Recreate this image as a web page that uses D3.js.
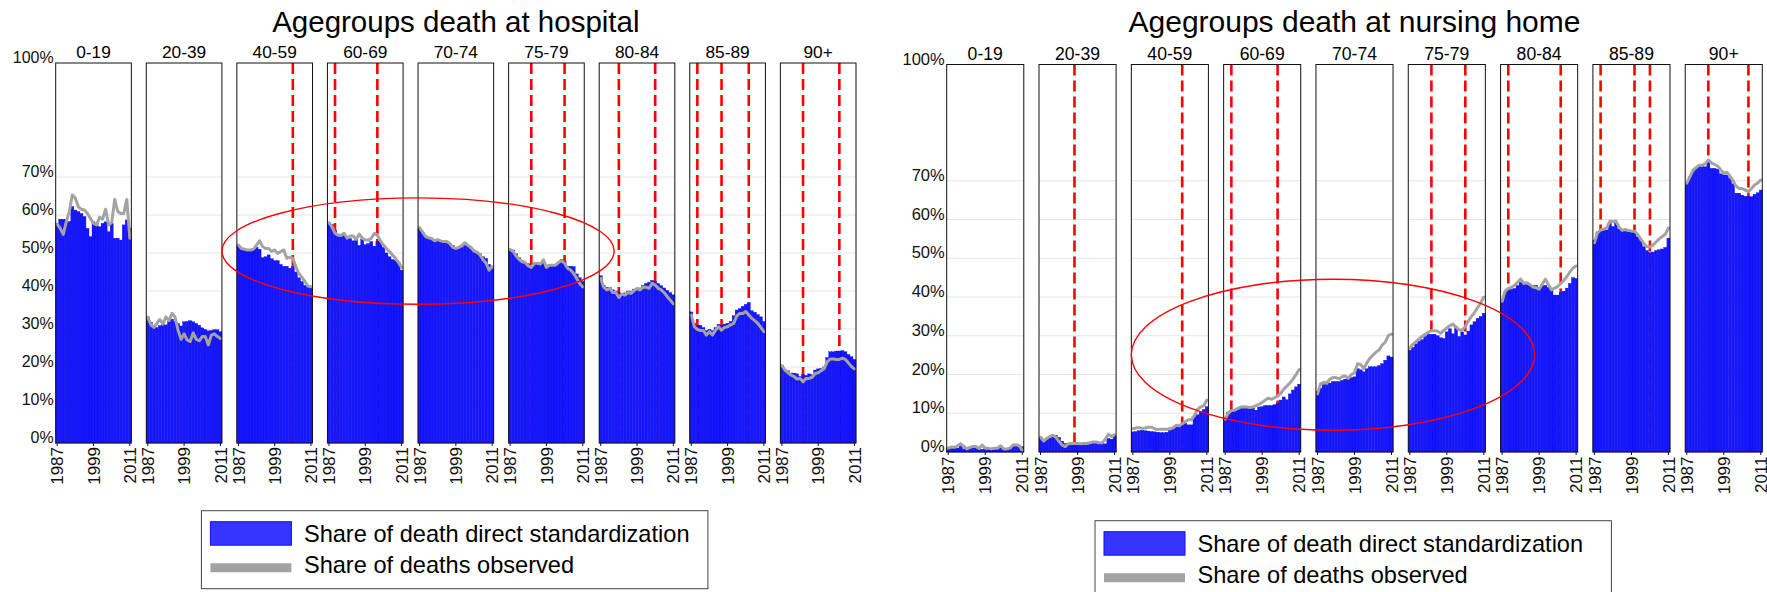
<!DOCTYPE html>
<html>
<head>
<meta charset="utf-8">
<script src="https://cdn.jsdelivr.net/npm/d3@7"></script>
<style>
  html, body { margin: 0; padding: 0; background: #fff; }
  svg { display: block; font-family: "Liberation Sans", Arial, sans-serif; }
</style>
</head>
<body>
<svg id="chart" width="1767" height="592"></svg>
<script>
// ---------------- DATA ----------------
const ageGroups = ["0-19", "20-39", "40-59", "60-69", "70-74", "75-79", "80-84", "85-89", "90+"];
const years = [1987,1988,1989,1990,1991,1992,1993,1994,1995,1996,1997,1998,1999,2000,2001,2002,2003,2004,2005,2006,2007,2008,2009,2010,2011];
const yearTicks = [1987, 1999, 2011];
const percentTicks = [0, 10, 20, 30, 40, 50, 60, 70, 100];

// Share of death at hospital, direct standardization (%), one row per age group
const hospitalStd = [
  [57.8,58.9,58.9,58.9,58.3,62.2,61.3,60.9,60.4,59.6,56.5,54.3,58.2,57.8,56.9,57.8,58.2,55.6,57.8,53.9,53.9,53.4,57.4,58.7,56.5],
  [33.2,31.8,30.9,30.4,30.9,31.1,31.1,31.9,32.6,32.0,31.5,30.8,31.9,32.0,32.2,31.9,31.5,31.0,30.3,29.9,29.5,29.6,29.8,29.8,29.3],
  [52.0,51.0,50.8,50.8,50.8,51.2,51.5,51.0,48.8,49.0,49.5,48.5,48.0,48.0,47.0,46.5,46.5,46.0,46.5,45.0,43.5,42.5,41.5,41.3,41.3],
  [58.0,57.5,56.0,54.7,54.3,55.0,54.2,53.8,53.2,53.6,52.0,53.6,52.2,52.5,53.0,51.8,53.0,53.0,51.5,50.0,49.0,48.3,48.0,47.5,45.5],
  [56.5,55.5,54.5,54.0,53.5,53.5,53.3,53.3,53.0,52.8,52.5,52.0,51.5,51.5,51.5,52.0,51.8,51.0,50.8,50.3,49.8,49.0,48.6,47.0,46.0],
  [51.0,50.8,49.8,48.8,48.0,47.6,47.2,46.5,47.2,47.4,47.2,47.5,46.5,47.0,47.0,47.0,47.5,48.3,47.8,46.5,46.5,46.4,44.5,43.5,42.5],
  [44.0,41.5,41.0,41.0,40.3,40.0,39.6,39.2,39.5,40.0,40.0,40.5,40.2,40.8,41.5,42.0,42.3,42.8,42.6,42.0,41.4,40.8,40.2,39.6,39.0],
  [34.5,31.5,31.0,31.0,30.4,29.6,29.9,29.6,30.4,31.2,31.0,31.3,31.5,32.0,33.5,35.0,35.4,36.0,36.5,37.0,34.8,34.4,33.8,33.2,32.0],
  [20.4,19.3,19.0,18.4,18.4,18.2,17.5,18.0,17.8,18.2,18.0,19.2,19.5,19.6,20.0,22.5,24.0,24.0,24.2,24.2,24.3,24.0,23.3,22.7,22.0]
];
// Share of deaths at hospital, observed (%)
const hospitalObs = [
  [57.6,56.5,54.9,58.2,60.9,65.3,64.4,62.2,61.5,61.3,60.4,59.1,57.8,57.4,59.4,58.9,61.5,57.4,58.0,64.1,60.9,60.4,60.4,64.1,53.9],
  [33.1,31.1,30.4,31.5,32.5,31.3,33.2,32.2,34.1,33.2,29.7,27.3,28.7,27.1,26.7,29.0,27.3,26.9,28.0,28.0,25.8,28.4,28.7,28.0,27.5],
  [52.1,51.2,51.0,50.8,50.8,51.0,52.1,53.2,51.7,51.2,51.2,50.4,50.8,49.9,50.4,50.8,48.6,48.9,48.6,46.4,44.6,43.6,42.5,41.3,41.1],
  [58.0,56.9,55.2,54.7,54.7,55.2,53.9,54.5,54.5,53.6,55.0,53.9,53.4,53.4,53.9,55.2,54.7,53.2,52.1,51.2,50.4,49.5,48.6,47.5,46.2],
  [56.7,55.5,54.3,54.0,53.8,53.2,53.5,53.2,53.0,53.0,52.5,51.5,51.2,51.5,52.0,52.7,52.0,51.5,50.5,50.2,49.5,48.2,47.3,45.5,46.4],
  [50.9,50.4,49.2,48.3,47.7,47.5,46.6,46.2,47.3,47.3,47.1,48.2,46.2,46.8,46.8,46.8,47.5,48.0,47.3,46.0,45.5,44.6,43.3,42.0,41.1],
  [43.3,41.0,40.3,40.7,39.6,39.6,38.3,39.2,38.9,39.6,39.4,40.1,40.7,40.3,41.0,41.0,40.7,42.0,41.6,40.7,40.3,39.6,38.5,37.6,36.6],
  [33.7,30.6,29.9,29.6,29.6,28.4,29.3,28.4,29.7,30.6,29.7,30.4,30.6,31.1,31.5,33.4,34.1,34.1,34.6,33.7,32.8,32.2,31.5,30.4,29.3],
  [20.4,19.2,18.5,17.9,17.5,16.8,17.0,16.1,17.0,17.0,17.3,18.3,18.5,19.0,19.6,21.4,22.1,22.1,22.0,22.0,22.3,22.0,21.1,20.1,19.5]
];
// Share of death at nursing home, direct standardization (%)
const nursingStd = [
  [1.0,1.2,1.3,1.0,1.5,0.8,0.6,1.0,1.2,1.1,1.0,0.7,1.2,1.0,0.9,0.8,1.0,1.3,0.9,0.8,1.0,1.5,1.6,1.8,1.4],
  [3.9,3.0,3.3,3.6,4.4,4.3,3.8,2.8,2.2,2.2,2.1,2.0,2.0,2.0,2.1,2.2,2.5,2.5,2.5,2.4,2.4,2.1,3.5,3.3,4.3],
  [5.2,5.3,5.5,5.6,5.5,5.4,5.3,5.2,5.1,5.0,5.0,5.1,5.6,6.0,6.5,6.4,6.9,7.4,7.0,7.0,9.1,9.6,10.4,11.0,11.7],
  [9.0,10.3,10.8,10.9,11.2,11.6,11.8,11.5,11.2,11.4,10.8,11.6,11.7,12.0,12.0,12.0,12.2,12.6,13.4,14.2,13.5,15.0,16.0,16.8,17.5],
  [15.6,16.5,17.4,17.4,17.8,18.2,18.2,18.2,18.5,18.8,19.0,19.2,19.4,21.5,21.2,20.7,21.5,22.0,22.0,22.0,22.3,22.8,23.7,24.8,24.5],
  [26.3,27.0,27.9,28.6,29.0,29.8,30.4,30.4,30.4,30.0,29.5,29.3,31.0,31.8,30.5,32.3,29.8,31.0,30.2,31.2,32.8,33.6,34.5,35.0,35.8],
  [38.9,41.2,41.8,42.0,42.2,43.0,43.8,43.2,43.2,43.3,43.0,43.0,42.5,42.8,43.0,42.5,42.2,40.5,40.5,41.2,41.5,42.3,43.5,45.0,44.8],
  [54.7,56.8,57.2,57.3,57.3,59.0,58.2,59.0,57.5,57.3,57.0,56.8,57.0,56.8,55.5,54.5,53.0,52.0,51.5,51.6,52.0,52.2,52.4,52.8,55.2],
  [69.3,71.0,72.3,73.2,73.6,73.6,73.6,74.9,73.2,73.2,73.0,71.8,71.5,71.5,70.6,69.2,66.8,66.8,66.3,66.0,65.9,65.9,66.5,66.9,67.6]
];
// Share of deaths at nursing home, observed (%)
const nursingObs = [
  [1.0,1.3,1.2,1.6,2.1,1.5,0.8,1.2,1.4,1.4,0.9,1.8,1.0,1.0,0.8,1.0,1.0,1.6,0.8,0.8,1.0,1.8,1.9,1.6,0.5],
  [3.8,2.8,3.5,4.0,4.3,3.8,2.7,1.8,1.4,2.1,2.2,2.2,2.2,2.1,2.2,2.2,2.4,2.6,2.6,2.4,2.4,3.3,4.6,4.0,4.4],
  [6.0,6.2,6.3,6.1,6.2,6.4,6.4,6.0,5.8,5.9,5.9,5.9,6.0,6.2,6.9,6.8,7.3,7.8,8.3,8.3,9.5,11.0,11.6,12.0,13.4],
  [8.5,10.0,10.7,10.8,11.2,11.6,11.7,11.6,11.5,11.6,12.0,12.3,12.8,13.4,13.9,13.6,14.0,14.4,15.1,16.2,17.0,17.8,18.8,20.0,21.3],
  [15.0,17.6,18.0,17.8,18.8,19.2,19.2,18.9,19.4,19.6,19.0,20.0,20.4,22.8,22.6,21.5,23.0,24.2,25.0,25.8,26.3,27.6,28.4,30.1,30.4],
  [26.8,27.8,28.5,29.2,29.8,30.4,30.9,31.3,31.3,31.2,30.6,31.4,32.0,32.6,33.0,32.2,31.5,31.5,32.4,33.8,35.0,36.0,37.3,38.5,40.0],
  [38.9,41.6,42.2,42.5,43.0,43.8,44.6,43.5,43.7,43.2,42.6,42.4,42.0,43.3,44.6,43.2,41.8,42.3,42.7,43.5,44.3,45.3,46.5,47.5,48.0],
  [54.0,56.5,57.3,57.5,57.8,59.6,59.4,59.6,58.0,57.2,57.4,57.2,57.0,57.0,56.2,55.0,53.8,53.0,52.9,53.4,54.2,55.0,55.6,56.2,57.8],
  [69.4,71.0,72.7,73.4,74.0,74.0,74.4,75.4,74.6,74.2,73.8,72.8,72.0,72.2,71.2,70.0,68.6,68.0,68.0,67.6,67.2,68.0,68.9,69.4,70.2]
];
// Years marked with red dashed lines
const hospitalMarks = [[], [], [2005], [1989, 2003], [], [1994, 2005], [1993, 2005], [1989, 1997, 2006], [1994, 2006]];
const nursingMarks  = [[], [1998], [2003], [1989, 2004], [], [1994, 2005], [1989, 2006], [1989, 2000, 2005], [1994, 2007]];

const seriesLabels = ["Share of death direct standardization", "Share of deaths observed"];

// ---------------- DRAWING ----------------
const svg = d3.select("#chart");
const BAR_FILL = "#1616ff", BAR_STROKE = "#0606dc", OBS_COLOR = "#a3a3a3";

function drawPanel(cfg) {
  const g = svg.append("g");
  const fx = d3.scaleBand().domain(ageGroups).range(cfg.xRange).paddingInner(0.165).paddingOuter(0);
  const y = d3.scaleLinear().domain([0, 100]).range(cfg.yRange);
  const bw = fx.bandwidth();
  const x = d3.scaleBand().domain(years).range([0, bw]).padding(0);

  // title
  g.append("text").attr("x", (cfg.xRange[0] + cfg.xRange[1]) / 2).attr("y", cfg.titleY)
    .attr("text-anchor", "middle").attr("font-size", cfg.titleSize).attr("fill", "#000")
    .text(cfg.title);

  // y axis labels
  g.selectAll(".ylab").data(percentTicks).join("text")
    .attr("x", cfg.xRange[0] - 2).attr("y", d => y(d))
    .attr("text-anchor", "end").attr("font-size", cfg.yLabelSize).attr("fill", "#111")
    .text(d => d + "%");

  ageGroups.forEach((ag, i) => {
    const fg = g.append("g").attr("transform", `translate(${fx(ag)},0)`);
    // facet label
    fg.append("text").attr("x", bw / 2).attr("y", y(100) - cfg.stripGap)
      .attr("text-anchor", "middle").attr("font-size", cfg.stripSize).attr("fill", "#000").text(ag);
    // gridlines
    fg.selectAll(".grid").data(percentTicks.filter(t => t < 100)).join("line")
      .attr("x1", 0).attr("x2", bw).attr("y1", d => y(d)).attr("y2", d => y(d))
      .attr("stroke", "#e4e4e4").attr("stroke-width", 1);
    // red dashed lines
    fg.selectAll(".mark").data(cfg.marks[i]).join("line")
      .attr("x1", d => x(d) + x.bandwidth() / 2).attr("x2", d => x(d) + x.bandwidth() / 2)
      .attr("y1", y(100)).attr("y2", y(0))
      .attr("stroke", "#ff0000").attr("stroke-width", 2.6).attr("stroke-dasharray", "11,5");
    // bars
    fg.selectAll(".bar").data(cfg.std[i]).join("rect")
      .attr("x", (d, j) => x(years[j])).attr("width", x.bandwidth())
      .attr("y", d => y(d)).attr("height", d => y(0) - y(d))
      .attr("fill", BAR_FILL).attr("stroke", BAR_STROKE).attr("stroke-width", 0.35);
    // observed line
    const line = d3.line().x((d, j) => x(years[j]) + x.bandwidth() / 2).y(d => y(d));
    fg.append("path").datum(cfg.obs[i]).attr("d", line)
      .attr("fill", "none").attr("stroke", OBS_COLOR).attr("stroke-width", 3)
      .attr("stroke-linejoin", "round").attr("stroke-linecap", "round");
    // box
    fg.append("rect").attr("x", 0).attr("y", y(100)).attr("width", bw).attr("height", y(0) - y(100))
      .attr("fill", "none").attr("stroke", "#111").attr("stroke-width", 1);
    // x ticks + labels
    const ax = fg.append("g").attr("transform", `translate(0,${y(0)})`);
    ax.selectAll("line").data(yearTicks).join("line")
      .attr("x1", d => x(d) + x.bandwidth() / 2).attr("x2", d => x(d) + x.bandwidth() / 2)
      .attr("y1", 0).attr("y2", 3).attr("stroke", "#111");
    ax.selectAll("text").data(yearTicks).join("text")
      .attr("transform", d => `translate(${x(d) + x.bandwidth() / 2},${cfg.tickGap}) rotate(-90)`)
      .attr("text-anchor", "end").attr("dy", "0.36em")
      .attr("font-size", cfg.tickSize).attr("fill", "#111").text(d => d);
  });

  // annotation ellipse (defined in data terms)
  const e = cfg.ellipse;
  const cx = fx(e.centerFacet) + (e.centerYear == null ? 0 : x(e.centerYear) + x.bandwidth() / 2);
  const rx = cx - (fx(e.leftFacet) + (e.leftAtEnd ? bw : 0));
  g.append("ellipse").attr("cx", cx).attr("cy", y(e.value)).attr("rx", rx)
    .attr("ry", y(e.value - e.halfRange) - y(e.value))
    .attr("fill", "none").attr("stroke", "#ff0000").attr("stroke-width", 1.4);

  // legend
  const L = cfg.legend;
  const lg = svg.append("g");
  lg.append("rect").attr("x", L.x).attr("y", L.y).attr("width", L.w).attr("height", L.h)
    .attr("fill", "#fff").attr("stroke", "#444").attr("stroke-width", 1);
  lg.append("rect").attr("x", L.x + 9).attr("y", L.y + 11).attr("width", 81).attr("height", 23.5)
    .attr("fill", "#3535ff").attr("stroke", "#1010ff").attr("stroke-width", 1);
  lg.append("line").attr("x1", L.x + 9).attr("x2", L.x + 90).attr("y1", L.y + 57).attr("y2", L.y + 57)
    .attr("stroke", OBS_COLOR).attr("stroke-width", 9);
  lg.selectAll("text").data(seriesLabels).join("text")
    .attr("x", L.x + 102.5).attr("y", (d, k) => L.y + 31.5 + k * 31)
    .attr("font-size", 23.6).attr("fill", "#000").text(d => d);
}

drawPanel({
  title: "Agegroups death at hospital", titleY: 32, titleSize: 29.5,
  xRange: [55.7, 856], yRange: [443, 63],
  std: hospitalStd, obs: hospitalObs, marks: hospitalMarks,
  yLabelSize: 16, stripSize: 17.3, stripGap: 5.3, tickSize: 17, tickGap: 4,
  ellipse: { centerFacet: "70-74", centerYear: null, leftFacet: "20-39", leftAtEnd: true, value: 50.5, halfRange: 14 },
  legend: { x: 201.4, y: 510.7, w: 506.5, h: 78 }
});
drawPanel({
  title: "Agegroups death at nursing home", titleY: 32, titleSize: 30,
  xRange: [946.7, 1762.3], yRange: [452, 64.5],
  std: nursingStd, obs: nursingObs, marks: nursingMarks,
  yLabelSize: 16.5, stripSize: 17.6, stripGap: 4.5, tickSize: 17, tickGap: 4.5,
  ellipse: { centerFacet: "70-74", centerYear: 1992, leftFacet: "40-59", leftAtEnd: false, value: 25.1, halfRange: 19.5 },
  legend: { x: 1095, y: 520.7, w: 516.4, h: 80 }
});
</script>
</body>
</html>
